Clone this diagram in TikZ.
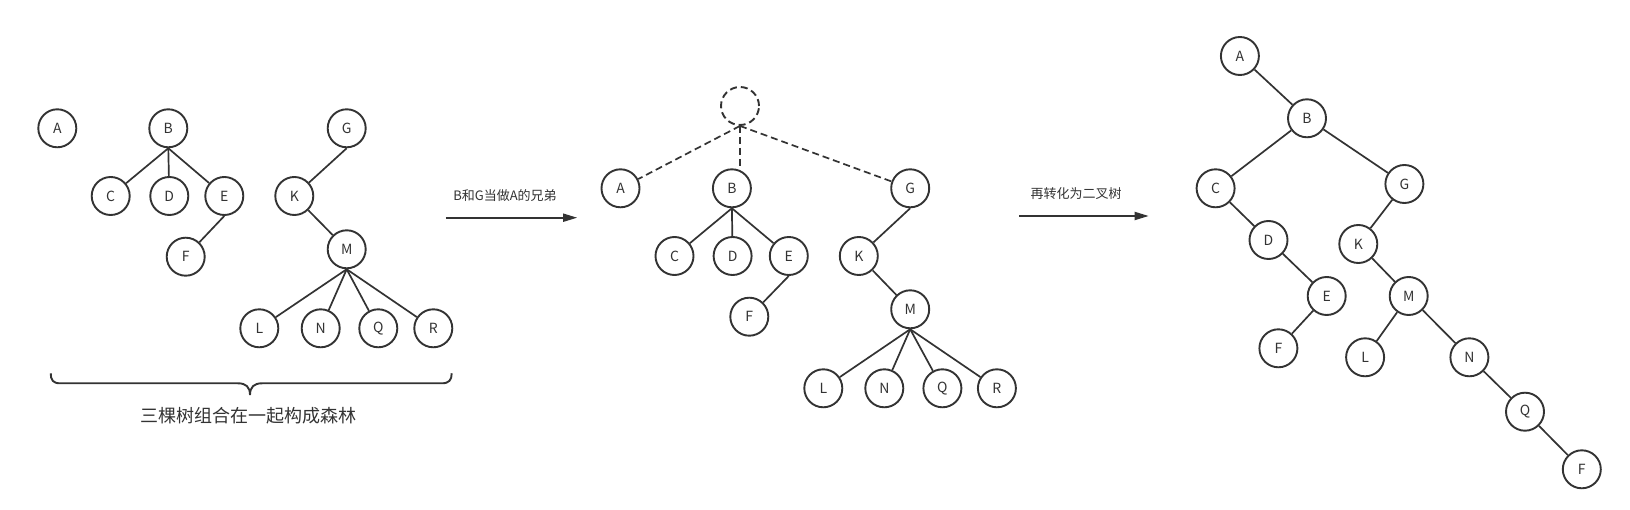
\documentclass[tikz,border=0pt]{standalone}
\usepackage{fontspec}
\setmainfont{Noto Sans CJK SC}
\usetikzlibrary{arrows.meta}
\definecolor{ink}{HTML}{333333}
\begin{document}
\begin{tikzpicture}[x=1pt,y=-1pt,
  tn/.style={circle, draw=ink, line width=1.9pt, minimum size=38pt, inner sep=0pt,
             font=\fontsize{14}{15}\selectfont, text=ink},
  dn/.style={tn, dash pattern=on 7pt off 4pt},
  edge/.style={draw=ink, line width=1.7pt},
  dedge/.style={edge, dash pattern=on 7pt off 4pt},
  arr/.style={draw=ink, line width=1.8pt, -{Triangle[length=14pt,width=8pt]}},
  lbl/.style={text=ink, font=\fontsize{13}{14}\selectfont},
  captext/.style={text=ink, font=\fontsize{18}{20}\selectfont},
  bracestyle/.style={draw=ink, line width=1.9pt}]
\useasboundingbox[fill=white] (0,0) rectangle (1630,510);

% ---- left forest ----
\node[tn] (aA) at (57.3,128.3) {A};
\node[tn] (aB) at (168.3,128.3) {B};
\node[tn] (aC) at (110.7,196) {C};
\node[tn] (aD) at (169.3,196) {D};
\node[tn] (aE) at (224.3,196) {E};
\node[tn] (aF) at (185.7,256.7) {F};
\node[tn] (aG) at (346.7,128.3) {G};
\node[tn] (aK) at (294.3,196) {K};
\node[tn] (aM) at (346.7,249.3) {M};
\node[tn] (aL) at (259.3,328.3) {L};
\node[tn] (aN) at (320.7,328.3) {N};
\node[tn] (aQ) at (378.3,328.3) {Q};
\node[tn] (aR) at (433.3,328.3) {R};
\draw[edge] (aB.south) -- (aC);
\draw[edge] (aB.south) -- (aD);
\draw[edge] (aB.south) -- (aE);
\draw[edge] (aE.south) -- (aF);
\draw[edge] (aG.south) -- (aK);
\draw[edge] (aK) -- (aM);
\draw[edge] (aM.south) -- (aL);
\draw[edge] (aM.south) -- (aN);
\draw[edge] (aM.south) -- (aQ);
\draw[edge] (aM.south) -- (aR);

\draw[bracestyle] (50.7,373.3) .. controls (50.7,380) and (53,383.3) .. (60,383.3)
  -- (238,383.3) .. controls (246,383.3) and (250,387) .. (250,395)
  .. controls (250,387) and (254,383.3) .. (262,383.3)
  -- (442,383.3) .. controls (449,383.3) and (451.7,380) .. (451.7,373.3);
\node[captext] (capt) at (248.3,416) {三棵树组合在一起构成森林};

% ---- arrow 1 ----
\coordinate (a1s) at (445.9,217.7);
\coordinate (a1e) at (577.2,217.7);
\draw[arr] (a1s) -- (a1e);
\node[lbl] (l1) at (505,196) {B和G当做A的兄弟};

% ---- middle tree ----
\node[dn] (bO) at (740,106) {};
\node[tn] (bA) at (620.5,188.3) {A};
\node[tn] (bB) at (731.9,188.3) {B};
\node[tn] (bG) at (910.2,188.3) {G};
\node[tn] (bC) at (674.5,256) {C};
\node[tn] (bD) at (732.6,256) {D};
\node[tn] (bE) at (788.8,256) {E};
\node[tn] (bF) at (749.3,316.7) {F};
\node[tn] (bK) at (858.8,256) {K};
\node[tn] (bM) at (910.2,309.3) {M};
\node[tn] (bL) at (823.3,388.3) {L};
\node[tn] (bN) at (884.3,388.3) {N};
\node[tn] (bQ) at (942.4,388.3) {Q};
\node[tn] (bR) at (996.9,388.3) {R};
\draw[dedge] (bO.south) -- (bA);
\draw[dedge] (bO.south) -- (bB.north -| bO.south);
\draw[dedge] (bO.south) -- (bG);
\draw[edge] (bB.south) -- (bC);
\draw[edge] (bB.south) -- (bD);
\draw[edge] (bB.south) -- (bE);
\draw[edge] (bE.south) -- (bF);
\draw[edge] (bG.south) -- (bK);
\draw[edge] (bK) -- (bM);
\draw[edge] (bM.south) -- (bL);
\draw[edge] (bM.south) -- (bN);
\draw[edge] (bM.south) -- (bQ);
\draw[edge] (bM.south) -- (bR);

% ---- arrow 2 ----
\coordinate (a2s) at (1019,216);
\coordinate (a2e) at (1148.7,216);
\draw[arr] (a2s) -- (a2e);
\node[lbl] (l2) at (1076.2,193.3) {再转化为二叉树};

% ---- binary tree ----
\node[tn] (cA) at (1239.9,56) {A};
\node[tn] (cB) at (1307,118.3) {B};
\node[tn] (cC) at (1215.6,188.3) {C};
\node[tn] (cG) at (1404.4,184) {G};
\node[tn] (cD) at (1268.5,240) {D};
\node[tn] (cK) at (1358.3,244) {K};
\node[tn] (cE) at (1326.7,296) {E};
\node[tn] (cM) at (1408.7,296) {M};
\node[tn] (cF) at (1278.4,348.3) {F};
\node[tn] (cL) at (1365.1,357.3) {L};
\node[tn] (cN) at (1469.4,357.3) {N};
\node[tn] (cQ) at (1525,411.7) {Q};
\node[tn] (cF2) at (1581.8,469.3) {F};
\draw[edge] (cA) -- (cB);
\draw[edge] (cB) -- (cC);
\draw[edge] (cB) -- (cG);
\draw[edge] (cC) -- (cD);
\draw[edge] (cD) -- (cE);
\draw[edge] (cE) -- (cF);
\draw[edge] (cG) -- (cK);
\draw[edge] (cK) -- (cM);
\draw[edge] (cM) -- (cL);
\draw[edge] (cM) -- (cN);
\draw[edge] (cN) -- (cQ);
\draw[edge] (cQ) -- (cF2);
\end{tikzpicture}
\end{document}
